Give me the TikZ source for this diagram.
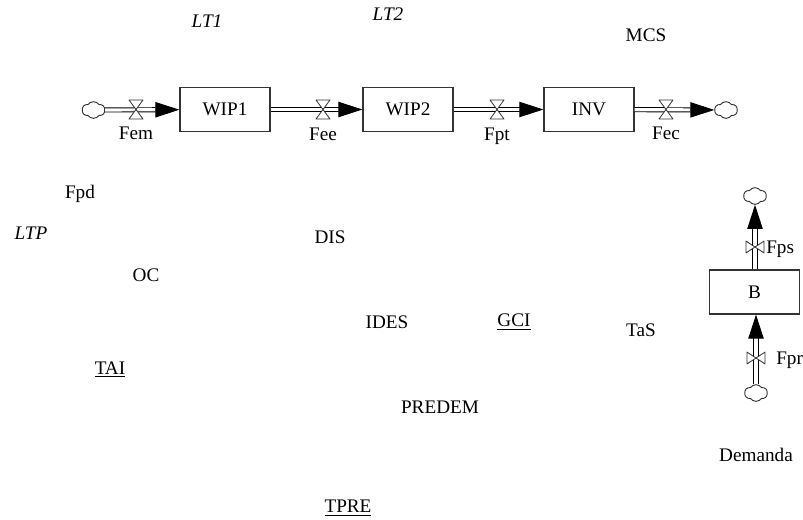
\documentclass[tikz,border=0pt]{standalone}
\usepackage{fontspec}
\setmainfont{Liberation Serif}
\usetikzlibrary{arrows.meta,shapes.symbols}
\definecolor{StockGray}{HTML}{333333}
\tikzset{
	stockbox/.style={draw=StockGray,line width=.9pt,fill=white,minimum width=67.5pt,minimum height=33pt,inner sep=0pt,font=\fontsize{14.4pt}{16pt}\selectfont},
	sourcecloud/.style={cloud,cloud puffs=6,cloud puff arc=110,draw=StockGray,line width=.7pt,fill=white,minimum width=17pt,minimum height=12.5pt,inner sep=0pt,aspect=1.5},
	flowpipe/.style={draw=black,line width=.7pt,double=white,double distance=2.4pt,-{Triangle[length=18pt,width=11.5pt]}},
	lbl/.style={inner sep=0pt,font=\fontsize{14.4pt}{16pt}\selectfont},
	valve/.pic={\draw[StockGray,line width=.6pt,fill=white,line join=round] (-7,-9.5) -- (7,-9.5) -- (-7,9.5) -- (7,9.5) -- cycle;}
}
\begin{document}
\begin{tikzpicture}[x=0.75pt,y=-0.75pt]
	\useasboundingbox (0,0) rectangle (803,519);
	% stocks
	\node[stockbox] (WIP1) at (225,109.5) {WIP1};
	\node[stockbox] (WIP2) at (408,109.5) {WIP2};
	\node[stockbox] (INV) at (589,109.5) {INV};
	\node[stockbox] (B) at (754.5,292) {B};
	% clouds
	\node[sourcecloud] (cloudA) at (93.5,110) {};
	\node[sourcecloud] (cloudB) at (726,110) {};
	\node[sourcecloud] (cloudC) at (755,196) {};
	\node[sourcecloud] (cloudD) at (756,393) {};
	% flows
	\draw[flowpipe] (cloudA) -- (WIP1);
	\draw[flowpipe] (WIP1) -- (WIP2);
	\draw[flowpipe] (WIP2) -- (INV);
	\draw[flowpipe] (INV) -- (cloudB);
	\draw[flowpipe] (cloudC |- B.north) -- (cloudC);
	\draw[flowpipe] (cloudD) -- (cloudD |- B.south);
	% valves
	\pic (valveFem) at (136,109.5) {valve};
	\pic (valveFee) at (323,109.5) {valve};
	\pic (valveFpt) at (497,109.5) {valve};
	\pic (valveFec) at (666,109.5) {valve};
	\pic[rotate=90,xscale=.85,yscale=.95] (valveFps) at (755,247) {valve};
	\pic[rotate=90,xscale=.85,yscale=.95] (valveFpr) at (756,358) {valve};
	% labels
	\node[lbl] (Fem) at (136,133) {Fem};
	\node[lbl] (Fee) at (323,134) {Fee};
	\node[lbl] (Fpt) at (497,136) {Fpt};
	\node[lbl] (Fec) at (666,133) {Fec};
	\node[lbl,anchor=west] (Fps) at (766,249) {Fps};
	\node[lbl,anchor=west] (Fpr) at (776,360) {Fpr};
	\node[lbl] (LT1) at (207,21) {\textit{LT1}};
	\node[lbl] (LT2) at (388,14) {\textit{LT2}};
	\node[lbl] (MCS) at (646,35) {MCS};
	\node[lbl] (Fpd) at (80,194) {Fpd};
	\node[lbl] (LTP) at (31,233) {\textit{LTP}};
	\node[lbl] (DIS) at (330,237) {DIS};
	\node[lbl] (OC) at (146,275) {OC};
	\node[lbl] (IDES) at (387,322) {IDES};
	\node[lbl] (GCI) at (514,322) {\underline{GCI}};
	\node[lbl] (TaS) at (641,330) {TaS};
	\node[lbl] (TAI) at (110,369) {\underline{TAI}};
	\node[lbl] (PREDEM) at (440,407) {PREDEM};
	\node[lbl] (Demanda) at (756,455) {Demanda};
	\node[lbl] (TPRE) at (348,508) {\underline{TPRE}};
\end{tikzpicture}
\end{document}
